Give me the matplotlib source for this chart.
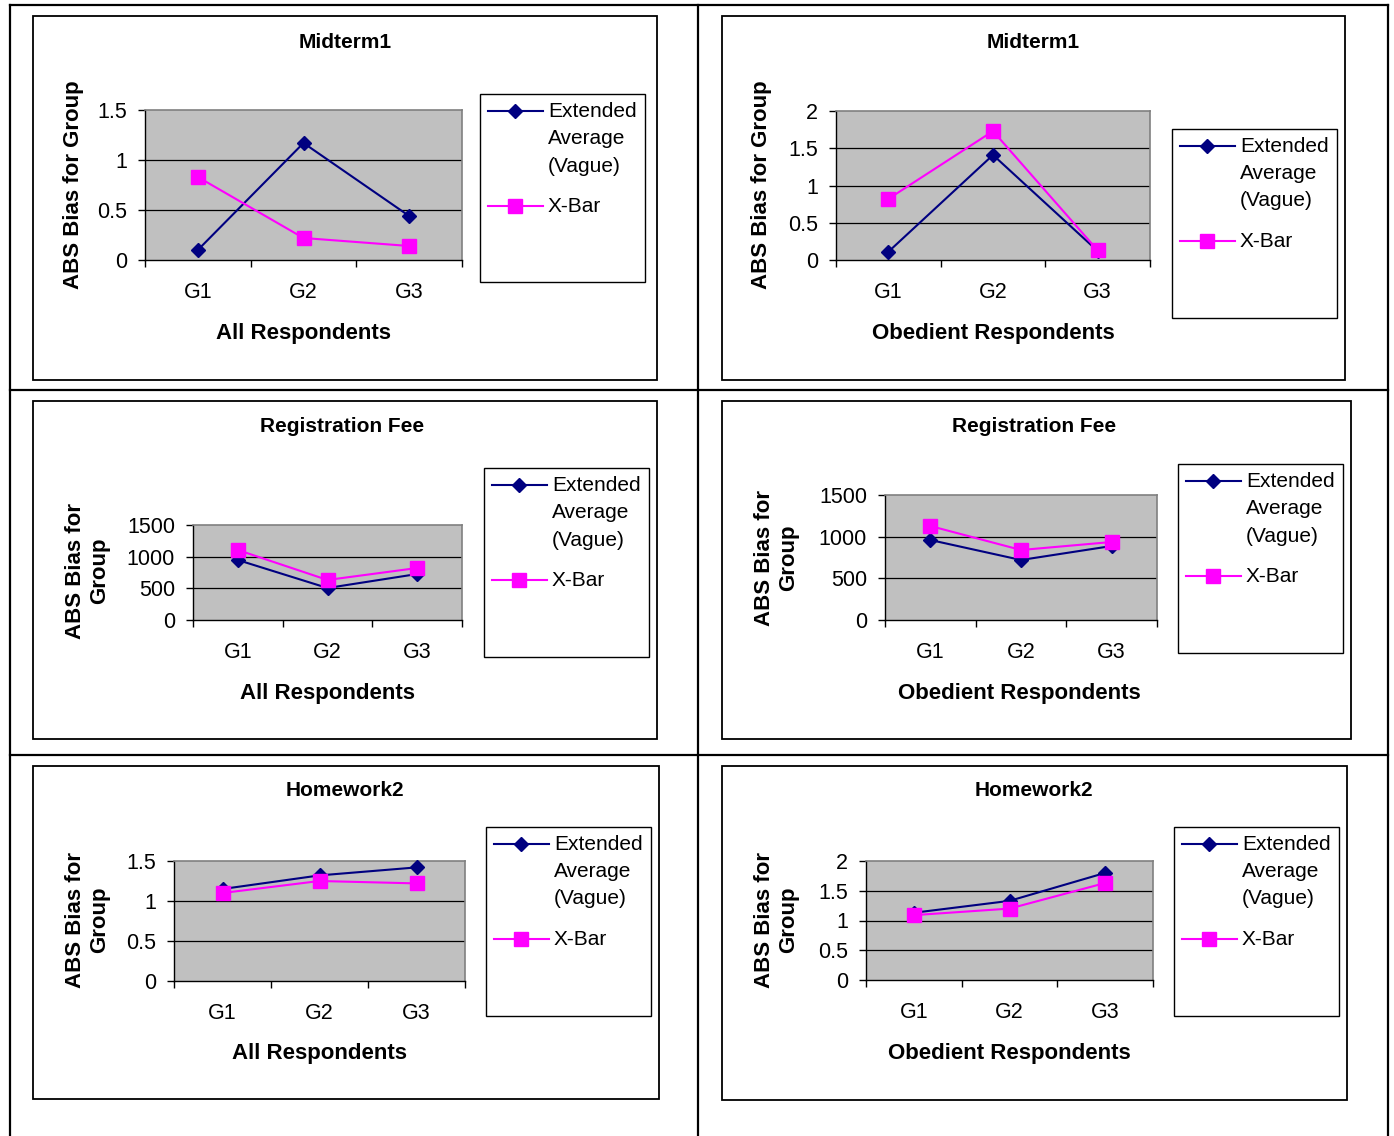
import numpy as np
import matplotlib.pyplot as plt
from matplotlib.patches import Rectangle
from matplotlib.lines import Line2D

plt.rcParams['font.family'] = ['Liberation Sans', 'DejaVu Sans']

W, H = 1394, 1136

# ---- data ----
groups = ['G1', 'G2', 'G3']
series_names = ['Extended\nAverage\n(Vague)', 'X-Bar']
titles = ['Midterm1', 'Midterm1', 'Registration Fee', 'Registration Fee',
          'Homework2', 'Homework2']
xlabels = ['All Respondents', 'Obedient Respondents'] * 3
ylabels = ['ABS Bias for Group', 'ABS Bias for Group',
           'ABS Bias for\nGroup', 'ABS Bias for\nGroup',
           'ABS Bias for\nGroup', 'ABS Bias for\nGroup']

ext_avg = [[0.10, 1.17, 0.44],
           [0.11, 1.41, 0.12],
           [947, 505, 726],
           [960, 720, 888],
           [1.15, 1.32, 1.42],
           [1.13, 1.33, 1.80]]
xbar = [[0.83, 0.22, 0.14],
        [0.82, 1.73, 0.13],
        [1105, 632, 821],
        [1128, 840, 936],
        [1.10, 1.25, 1.22],
        [1.09, 1.20, 1.63]]
yticks = [[0, 0.5, 1, 1.5],
          [0, 0.5, 1, 1.5, 2],
          [0, 500, 1000, 1500],
          [0, 500, 1000, 1500],
          [0, 0.5, 1, 1.5],
          [0, 0.5, 1, 1.5, 2]]

# ---- layout in pixels (x0, y0, x1, y1) ----
frames = [(33, 16, 657, 380), (722, 16, 1345, 380),
          (33, 401, 657, 739), (722, 401, 1351, 739),
          (33, 766, 659, 1099), (722, 766, 1347, 1100)]
plots = [(145, 110, 462, 260), (836, 111, 1150, 260),
         (193, 525, 462, 620), (885, 495, 1157, 620),
         (174, 861, 465, 981), (866, 861, 1153, 980)]
legends = [(480, 94, 645, 282), (1172, 129, 1337, 318),
           (484, 468, 649, 657), (1178, 464, 1343, 653),
           (486, 827, 651, 1016), (1174, 827, 1339, 1016)]
title_xy = [(345, 43), (1033, 43), (342, 426), (1034, 426), (345, 791), (1034, 791)]
xlab_xy = [(303, 334), (993, 334), (327, 693), (1019, 693), (319, 1054), (1009, 1054)]
ylab_xy = [(73, 185), (762, 185), (88, 571), (777, 558), (88, 920), (777, 920)]

NAVY = '#000080'
MAG = '#FF00FF'


def fx(x):
    return x / W


def fy(y):
    return 1 - y / H


fig = plt.figure(figsize=(W / 100, H / 100), dpi=100)

# table grid lines
for x in [10, 698, 1388]:
    fig.add_artist(Line2D([fx(x), fx(x)], [fy(5), fy(1136)], color='black', lw=1.6))
for y in [5, 390, 755]:
    fig.add_artist(Line2D([fx(10), fx(1388)], [fy(y), fy(y)], color='black', lw=1.6))

xpos = np.arange(len(groups)) + 0.5

for i in range(6):
    # chart frame
    x0, y0, x1, y1 = frames[i]
    fig.add_artist(Rectangle((fx(x0), fy(y1)), fx(x1 - x0), (y1 - y0) / H,
                             fill=False, ec='black', lw=1.3))

    px0, py0, px1, py1 = plots[i]
    ax = fig.add_axes([fx(px0), fy(py1), fx(px1 - px0), (py1 - py0) / H])
    ax.set_facecolor('#C0C0C0')
    ax.plot(xpos, ext_avg[i], color=NAVY, lw=1.5, marker='D', ms=7,
            mfc=NAVY, mec=NAVY, zorder=3, clip_on=False)
    ax.plot(xpos, xbar[i], color=MAG, lw=1.5, marker='s', ms=9.5,
            mfc=MAG, mec=MAG, zorder=3, clip_on=False)

    ax.set_xlim(0, len(groups))
    ax.set_ylim(yticks[i][0], yticks[i][-1])
    ax.set_yticks(yticks[i])
    ax.set_yticklabels(['%g' % v for v in yticks[i]])
    for v in yticks[i][1:-1]:
        ax.axhline(v, color='black', lw=0.9, zorder=1)
    ax.set_xticks(np.arange(len(groups) + 1))
    ax.set_xticklabels([])
    ax.set_xticks(xpos, minor=True)
    ax.set_xticklabels(groups, minor=True)
    ax.tick_params(axis='x', which='major', direction='out', length=5, width=1)
    ax.tick_params(axis='x', which='minor', length=0, pad=15.5, labelsize=15.5)
    ax.tick_params(axis='y', direction='out', length=5, width=1, pad=8, labelsize=15.5)
    for s in ['top', 'right']:
        ax.spines[s].set_color('#808080')
        ax.spines[s].set_linewidth(1.2)
    for s in ['left', 'bottom']:
        ax.spines[s].set_color('black')
        ax.spines[s].set_linewidth(1.0)

    # titles and axis labels
    fig.text(fx(title_xy[i][0]), fy(title_xy[i][1]), titles[i], ha='center',
             va='center', fontsize=15, fontweight='bold')
    fig.text(fx(xlab_xy[i][0]), fy(xlab_xy[i][1]), xlabels[i], ha='center',
             va='center', fontsize=16, fontweight='bold')
    fig.text(fx(ylab_xy[i][0]), fy(ylab_xy[i][1]), ylabels[i], ha='center',
             va='center', fontsize=16, fontweight='bold', rotation=90,
             multialignment='center', linespacing=1.2)

    # legend box
    lx0, ly0, lx1, ly1 = legends[i]
    fig.add_artist(Rectangle((fx(lx0), fy(ly1)), fx(lx1 - lx0), (ly1 - ly0) / H,
                             fill=False, ec='black', lw=1.0))
    for name, col, mk, ms, dy in [(series_names[0], NAVY, 'D', 7, 17),
                                  (series_names[1], MAG, 's', 9.5, 112)]:
        yy = ly0 + dy
        fig.add_artist(Line2D([fx(lx0 + 8), fx(lx0 + 63)], [fy(yy), fy(yy)],
                              color=col, lw=1.5))
        fig.add_artist(Line2D([fx(lx0 + 35)], [fy(yy)], color=col, marker=mk,
                              ms=ms, mfc=col, mec=col, lw=0))
        fig.text(fx(lx0 + 68), fy(yy - 9), name, ha='left', va='top',
                 fontsize=15, linespacing=1.55)

fig.savefig('out.png', dpi=100, facecolor='white')
